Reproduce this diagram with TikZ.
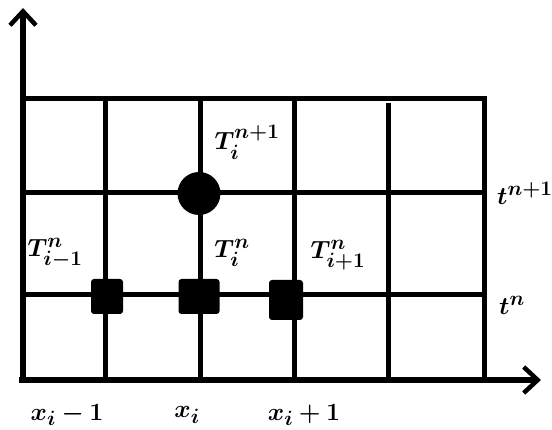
\documentclass[tikz,border=0pt]{standalone}
\usepackage{amsmath}
\usepackage{bm}
\usetikzlibrary{arrows.meta}
\tikzset{
  gridline/.style={line width=5pt, line cap=rect},
  axisline/.style={line width=5.5pt, -{Straight Barb[length=14pt,width=26pt,line width=4.5pt]}},
  marksq/.style={fill=black, rounded corners=3pt, inner sep=0pt},
  markdot/.style={circle, fill=black, inner sep=0pt, minimum size=43pt},
  lab/.style={inner sep=0pt, font=\fontsize{29}{34}\selectfont},
}
\begin{document}
\begin{tikzpicture}[x=1pt,y=-1pt]
\useasboundingbox (0,0) rectangle (552,430);
% horizontal grid lines
\draw[gridline] (23,99) -- (484,99);
\draw[gridline] (23,193) -- (484,193);
\draw[gridline] (23,295) -- (484,295);
% vertical grid lines
\draw[gridline] (23,99) -- (23,375);
\draw[gridline] (105,99) -- (105,375);
\draw[gridline] (200,99) -- (200,375);
\draw[gridline] (294,104) -- (294,380);
\draw[gridline] (388,106) -- (388,380);
\draw[gridline] (484,99) -- (484,375);
% axes
\coordinate (o) at (19,380);
\coordinate (xe) at (541,380);
\coordinate (ye) at (23,8);
\draw[axisline] (o) -- (xe);
\draw[axisline] (23,382) -- (ye);
% markers
\node[markdot] (c) at (199,193.5) {};
\node[marksq, minimum width=32pt, minimum height=35pt] (s1) at (107,296.5) {};
\node[marksq, minimum width=41pt, minimum height=35pt] (s2) at (199,296.5) {};
\node[marksq, minimum width=34pt, minimum height=40pt] (s3) at (286,300) {};
% labels
\node[lab] (l1) at (247,142) {$\bm{T_i^{n+1}}$};
\node[lab] (l2) at (55,253) {$\bm{T_{i-1}^{n}}$};
\node[lab] (l3) at (232,253) {$\bm{T_{i}^{n}}$};
\node[lab] (l4) at (338,255) {$\bm{T_{i+1}^{n}}$};
\node[lab, anchor=west] (l5) at (497,193) {$\bm{t^{n+1}}$};
\node[lab, anchor=west] (l6) at (499,305) {$\bm{t^{n}}$};
\node[lab] (l7) at (67,415) {$\bm{x_i-1}$};
\node[lab] (l8) at (187,415) {$\bm{x_i}$};
\node[lab] (l9) at (304,415) {$\bm{x_i+1}$};
\end{tikzpicture}
\end{document}
